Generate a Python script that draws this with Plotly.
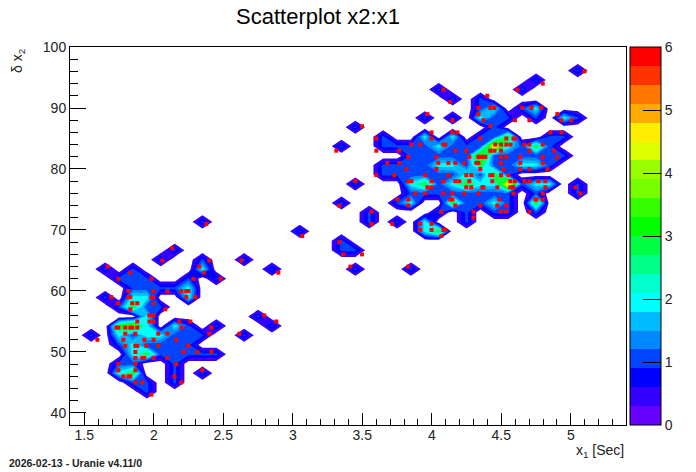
import numpy as np
import plotly.graph_objects as go

# scatter points, one line per x2 value
rows = [
 (96,[5.098]),(94,[4.798]),(93,[4.083,4.615]),(92,[4.399]),(91,[4.133]),
 (90,[4.335,4.421,4.450,4.651,4.716,4.788]),
 (89,[3.968,4.335,4.903]),
 (88,[4.148,4.371,4.598,4.702,4.932,5.004]),
 (87,[3.498,4.421]),
 (86,[3.998,4.148,4.184,4.853,4.932]),
 (85,[3.601,3.998,4.349,4.536,4.587,4.598]),
 (84,[3.853,3.917,4.083,4.097,4.457,4.498,4.536,4.565,4.666,4.702,4.798]),
 (83,[3.313,3.601,3.766,4.169,4.248,4.421,4.450,4.498,4.702,4.881]),
 (82,[3.831,4.033,4.270,4.335,4.349,4.364,4.385,4.498,4.536,4.637,4.798,4.903]),
 (81,[3.680,3.766,4.047,4.119,4.169,4.234,4.320,4.335,4.498,4.637,4.798]),
 (80,[3.817,4.033,4.349,4.515,4.637,4.702,4.831]),
 (79,[3.601,3.730,3.953,4.119,4.248,4.284,4.421,4.435,4.498,4.551]),
 (78,[3.450,3.831,3.853,3.998,4.083,4.169,4.198,4.270,4.435,4.565,4.598,4.666,4.702,4.766,4.817]),
 (77,[3.968,3.998,4.248,4.284,4.364,4.371,4.471,4.565,4.579,4.587,4.817,5.033]),
 (76,[3.881,3.953,4.083,4.148,4.234,4.335,4.587,4.798,5.069]),
 (75,[3.752,3.831,4.133,4.148,4.486,4.745,4.752,4.798]),
 (74,[3.335,3.831,4.169,4.349,4.471,4.536]),
 (73,[3.565,4.069,4.299,4.498,4.536,4.702]),
 (72,[4.299]),
 (71,[2.378,3.565,3.716,3.917,3.998]),
 (70,[3.917,3.998,4.083,4.097]),
 (69,[3.068,4.069]),
 (68,[3.335]),
 (67,[2.133]),
 (66,[3.364,3.498]),
 (65,[2.061,2.399,2.630]),
 (64,[1.668,2.327,3.414,3.831]),
 (63,[1.831,2.363,2.896]),
 (62,[1.745,1.982,2.284,2.479]),
 (60,[1.817,1.998,2.097,2.198,2.234,2.248]),
 (59,[1.694,1.817,1.831,1.982,1.997,2.234,2.299]),
 (58,[1.745,1.845,1.881,1.997]),
 (57,[1.831,2.083]),
 (56,[1.968,1.997,2.795]),
 (55,[1.881,1.968,1.997,2.184,2.263,2.881]),
 (54,[1.730,1.745,1.795,1.831,1.845,1.881,2.198,2.414]),
 (53,[1.795,1.867,2.032,2.097,2.399,2.615]),
 (52,[1.594,1.781,1.932,1.998,2.162]),
 (51,[1.795,1.867,1.881,1.946,2.032,2.248]),
 (50,[1.867,2.212,2.313,2.414]),
 (49,[1.867,1.917,1.932,1.998,2.097]),
 (48,[1.745,1.867,2.162]),
 (47,[1.745,1.867,2.349]),
 (46,[1.781,1.817,1.831,2.148]),
 (45,[1.867,1.917,2.198]),
 (43,[1.982]),
]
x1_values = [x for y, xs in rows for x in xs]
x2_values = [y for y, xs in rows for x in xs]

# 2D histogram of the points
x_edges = 1.4 + 0.1*np.arange(41)
y_edges = 37.999 + 1.55*np.arange(41)
counts, _, _ = np.histogram2d(x1_values, x2_values, bins=[x_edges, y_edges])
x_centers = 1.45 + 0.1*np.arange(40)
y_centers = 38.775 + 1.55*np.arange(40)

# The reference's contour leaves no white holes inside a cluster:
# empty cells not reachable from the outside are shown at the 1-count level.
nx, ny = counts.shape
outside = np.zeros(counts.shape, bool)
stack = [(i, j) for i in range(nx) for j in range(ny)
         if (i in (0, nx-1) or j in (0, ny-1)) and counts[i, j] == 0]
while stack:
    i, j = stack.pop()
    if outside[i, j]:
        continue
    outside[i, j] = True
    for a, b in ((i+1, j), (i-1, j), (i, j+1), (i, j-1)):
        if 0 <= a < nx and 0 <= b < ny and counts[a, b] == 0 and not outside[a, b]:
            stack.append((a, b))
shown = counts.copy()
shown[(counts == 0) & ~outside] = 1

level_colors = ["#6600ff","#3300ff","#0000ff","#0044ff","#0088ff","#00bbff","#00ffff",
                "#00ffcc","#00ff88","#00ff44","#00ff00","#33ff00","#77ff00","#99ff00",
                "#ddff00","#ffee00","#ffaa00","#ff7700","#ff3300","#ff0000"]
n = len(level_colors)
bar_scale = []
for i, c in enumerate(level_colors):
    bar_scale += [[i/n, c], [(i+1)/n, c]]
fill_colors = ["#ffffff"] + level_colors[1:]
fill_scale = []
for i, c in enumerate(fill_colors):
    fill_scale += [[i/n, c], [(i+1)/n, c]]

FONT = "Liberation Sans"
fig = go.Figure()
fig.add_trace(go.Contour(
    x=x_centers, y=y_centers, z=shown.T,
    autocontour=False,
    contours=dict(start=0.3, end=5.7, size=0.3, coloring="fill", showlines=False),
    line=dict(width=0, smoothing=0), colorscale=fill_scale, showscale=False, hoverinfo="skip",
))
fig.add_trace(go.Scatter(
    x=x1_values, y=x2_values, mode="markers",
    marker=dict(symbol="square", size=4, color="#ff0000", line=dict(width=0)),
    showlegend=False, hoverinfo="skip",
))
# colour scale
fig.add_trace(go.Scatter(
    x=[None], y=[None], mode="markers", showlegend=False,
    marker=dict(color=[0], cmin=0, cmax=6, colorscale=bar_scale, showscale=True,
        colorbar=dict(x=1+4/556, xanchor="left", xpad=0, ypad=0, y=0, yanchor="bottom",
            len=1, lenmode="fraction", thickness=31, thicknessmode="pixels",
            outlinewidth=1, outlinecolor="black",
            tickmode="array", tickvals=[0,1,2,3,4,5,6], ticktext=["0","1","2","3","4","5","6"],
            ticks="inside", ticklen=18, tickcolor="black", tickwidth=1,
            tickfont=dict(family=FONT, size=14, color="#222222"))),
))
fig.update_layout(
    width=696, height=472, paper_bgcolor="white", plot_bgcolor="white",
    margin=dict(l=70, r=70, t=47, b=47, autoexpand=False), showlegend=False,
    font=dict(family=FONT, size=14, color="#222222"),
    title=dict(text="Scatterplot x2:x1", x=318/696, xanchor="center", y=1-16/472, yanchor="middle",
               font=dict(family=FONT, size=22, color="black")),
    xaxis=dict(range=[1.397, 5.397], tickmode="array", tickvals=[1.5,2,2.5,3,3.5,4,4.5,5],
               ticktext=["1.5","2","2.5","3","3.5","4","4.5","5"],
               ticks="inside", ticklen=12, tickcolor="black", tickwidth=1, ticklabelstandoff=-3,
               minor=dict(dtick=0.1, tick0=1.4, ticks="inside", ticklen=6, tickcolor="black", tickwidth=1),
               showgrid=False, zeroline=False, showline=True, linecolor="black", linewidth=1, mirror=True),
    yaxis=dict(range=[38.03, 100], tickmode="array", tickvals=[40,50,60,70,80,90,100],
               ticks="inside", ticklen=16, tickcolor="black", tickwidth=1,
               minor=dict(dtick=2, tick0=40, ticks="inside", ticklen=8, tickcolor="black", tickwidth=1),
               showgrid=False, zeroline=False, showline=True, linecolor="black", linewidth=1, mirror=True),
    annotations=[
        dict(text="x<sub>1</sub> [Sec]", xref="paper", yref="paper", x=1, y=-26/378, xanchor="right", yanchor="middle",
             showarrow=False, font=dict(family=FONT, size=14, color="#222222")),
        dict(text="δ x<sub>2</sub>", xref="paper", yref="paper", x=-52/556, y=1, xanchor="center", yanchor="top",
             textangle=-90, showarrow=False, font=dict(family=FONT, size=14, color="#222222")),
        dict(text="<b>2026-02-13 - Uranie v4.11/0</b>", xref="paper", yref="paper", x=-63/556, y=-38/378,
             xanchor="left", yanchor="middle", showarrow=False, font=dict(family=FONT, size=10.5, color="#222222")),
    ],
)
fig.write_html("out.html", post_script="document.body.style.margin='0';", config=dict(displayModeBar=False))
